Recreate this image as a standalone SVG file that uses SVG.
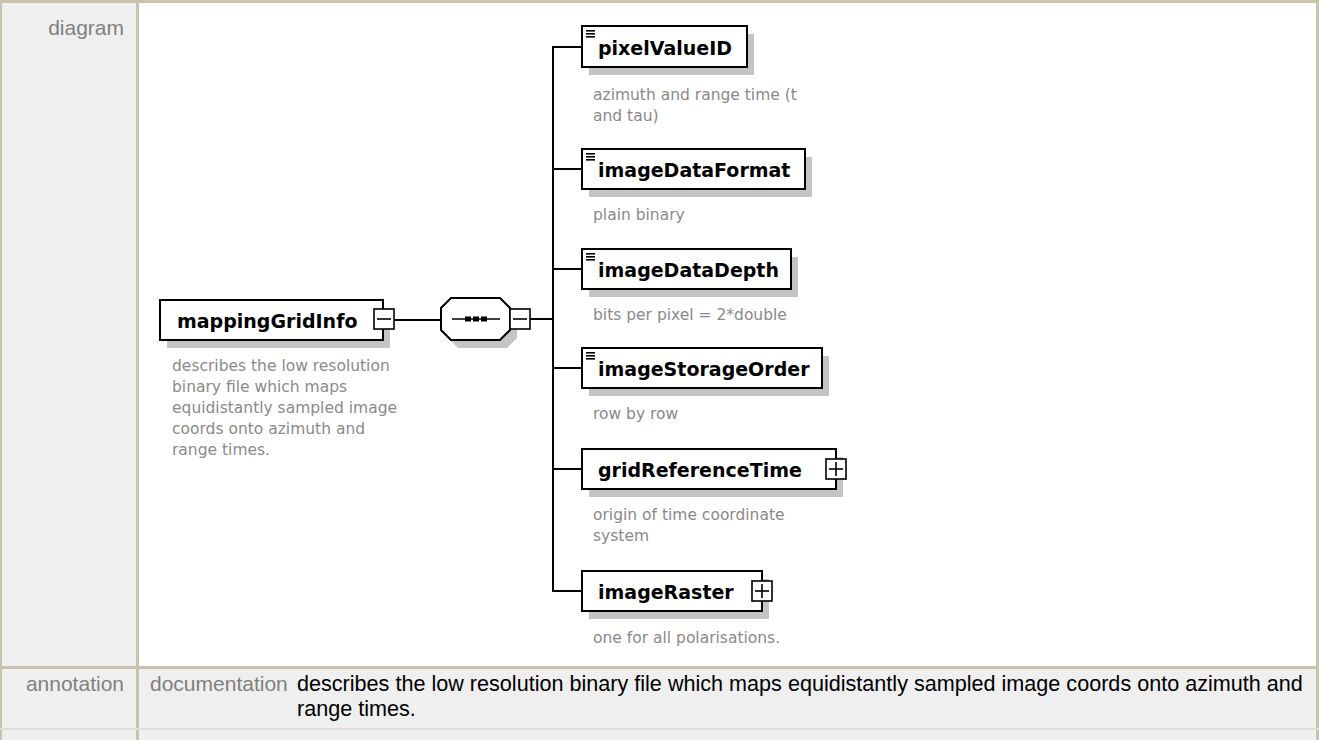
<svg xmlns="http://www.w3.org/2000/svg" width="1319" height="740" viewBox="0 0 1319 740">
  <style>
    .lbl { font-family: "Liberation Sans", Arial, sans-serif; font-size: 21px; fill: #808080; }
    .doc { font-family: "Liberation Sans", Arial, sans-serif; font-size: 21.6px; fill: #000; }
    .name { font-family: "DejaVu Sans", Verdana, sans-serif; font-weight: bold; font-size: 19px; fill: #000; }
    .desc { font-family: "DejaVu Sans", Verdana, sans-serif; font-size: 15.5px; fill: #8a8a8a; }
    .box { fill: #fff; stroke: #000; stroke-width: 2; }
    .shadow { fill: #c4c4c4; }
    .wire { stroke: #000; stroke-width: 2; fill: none; }
    .btn { fill: #fff; stroke: #000; stroke-width: 1.6; }
    .frame { fill: #c8c3ab; }
  </style>
  <defs>
    <!-- simple-content marker drawn in the top-left corner of leaf elements -->
    <g id="leafIcon">
      <rect x="0" y="0" width="9" height="1.6" fill="#000"/>
      <rect x="0" y="3" width="9" height="1.6" fill="#000"/>
      <rect x="0" y="6" width="9" height="1.6" fill="#000"/>
    </g>
    <g id="plusBtn">
      <rect class="btn" x="-10" y="-10" width="20" height="20"/>
      <line x1="-7" y1="0" x2="7" y2="0" stroke="#000" stroke-width="1.6"/>
      <line x1="0" y1="-7" x2="0" y2="7" stroke="#000" stroke-width="1.6"/>
    </g>
    <g id="minusBtn">
      <rect class="btn" x="-10" y="-10" width="20" height="20"/>
      <line x1="-7" y1="0" x2="7" y2="0" stroke="#000" stroke-width="1.6"/>
    </g>
  </defs>

  <!-- table background and frame -->
  <rect x="0" y="0" width="1319" height="740" fill="#efefef"/>
  <rect x="139" y="3" width="1177" height="663" fill="#fff"/>
  <rect class="frame" x="0" y="0" width="1319" height="3"/>
  <rect class="frame" x="0" y="0" width="2" height="740"/>
  <rect class="frame" x="1316" y="0" width="3" height="740"/>
  <rect class="frame" x="136" y="0" width="3" height="740"/>
  <rect class="frame" x="0" y="666" width="1319" height="3"/>
  <rect x="0" y="728" width="1319" height="2" fill="#e2dfd2"/>

  <!-- row labels -->
  <text class="lbl" x="124" y="35" text-anchor="end">diagram</text>
  <text class="lbl" x="124" y="691" text-anchor="end">annotation</text>

  <!-- documentation cell -->
  <g id="documentation">
    <text class="lbl" x="150" y="691">documentation</text>
    <text class="doc" x="297" y="691">describes the low resolution binary file which maps equidistantly sampled image coords onto azimuth and</text>
    <text class="doc" x="297" y="716">range times.</text>
  </g>

  <!-- connectors -->
  <g id="connectors">
    <line class="wire" x1="394" y1="320" x2="441" y2="320"/>
    <line class="wire" x1="530" y1="319" x2="553" y2="319"/>
    <line class="wire" x1="553" y1="46" x2="553" y2="592"/>
    <line class="wire" x1="553" y1="47" x2="582" y2="47"/>
    <line class="wire" x1="553" y1="169" x2="582" y2="169"/>
    <line class="wire" x1="553" y1="269" x2="582" y2="269"/>
    <line class="wire" x1="553" y1="368" x2="582" y2="368"/>
    <line class="wire" x1="553" y1="469" x2="582" y2="469"/>
    <line class="wire" x1="553" y1="591" x2="582" y2="591"/>
  </g>

  <!-- root element -->
  <g id="mappingGridInfo">
    <rect class="shadow" x="167" y="308" width="223" height="40"/>
    <rect class="box" x="160" y="300" width="223" height="40"/>
    <text class="name" x="177" y="328">mappingGridInfo</text>
    <use href="#minusBtn" x="384" y="319"/>
    <text class="desc" x="172" y="371">describes the low resolution</text>
    <text class="desc" x="172" y="392">binary file which maps</text>
    <text class="desc" x="172" y="413">equidistantly sampled image</text>
    <text class="desc" x="172" y="434">coords onto azimuth and</text>
    <text class="desc" x="172" y="455">range times.</text>
  </g>

  <!-- sequence compositor -->
  <g id="sequence">
    <polygon class="shadow" points="458,306 507,306 517,316 517,338 507,348 458,348 448,338 448,316"/>
    <polygon class="box" points="451,298 500,298 510,308 510,330 500,340 451,340 441,330 441,308"/>
    <line x1="452" y1="319" x2="500" y2="319" stroke="#000" stroke-width="1.6"/>
    <rect x="465" y="316.5" width="6" height="5" fill="#000"/>
    <rect x="473" y="316.5" width="6" height="5" fill="#000"/>
    <rect x="481" y="316.5" width="6" height="5" fill="#000"/>
    <use href="#minusBtn" x="520" y="319"/>
  </g>

  <g id="pixelValueID">
    <rect class="shadow" x="589" y="34" width="165" height="41"/>
    <rect class="box" x="582" y="26" width="165" height="41"/>
    <use href="#leafIcon" x="586" y="30"/>
    <text class="name" x="598" y="55">pixelValueID</text>
    <text class="desc" x="593" y="100">azimuth and range time (t</text>
    <text class="desc" x="593" y="121">and tau)</text>
  </g>

  <g id="imageDataFormat">
    <rect class="shadow" x="589" y="157" width="223" height="40"/>
    <rect class="box" x="582" y="149" width="223" height="40"/>
    <use href="#leafIcon" x="586" y="153"/>
    <text class="name" x="598" y="177">imageDataFormat</text>
    <text class="desc" x="593" y="220">plain binary</text>
  </g>

  <g id="imageDataDepth">
    <rect class="shadow" x="589" y="257" width="209" height="40"/>
    <rect class="box" x="582" y="249" width="209" height="40"/>
    <use href="#leafIcon" x="586" y="253"/>
    <text class="name" x="598" y="277">imageDataDepth</text>
    <text class="desc" x="593" y="320">bits per pixel = 2*double</text>
  </g>

  <g id="imageStorageOrder">
    <rect class="shadow" x="589" y="356" width="240" height="40"/>
    <rect class="box" x="582" y="348" width="240" height="40"/>
    <use href="#leafIcon" x="586" y="352"/>
    <text class="name" x="598" y="376">imageStorageOrder</text>
    <text class="desc" x="593" y="419">row by row</text>
  </g>

  <g id="gridReferenceTime">
    <rect class="shadow" x="589" y="457" width="254" height="40"/>
    <rect class="box" x="582" y="449" width="254" height="40"/>
    <text class="name" x="598" y="477">gridReferenceTime</text>
    <use href="#plusBtn" x="836" y="469"/>
    <text class="desc" x="593" y="520">origin of time coordinate</text>
    <text class="desc" x="593" y="541">system</text>
  </g>

  <g id="imageRaster">
    <rect class="shadow" x="589" y="579" width="180" height="40"/>
    <rect class="box" x="582" y="571" width="180" height="40"/>
    <text class="name" x="598" y="599">imageRaster</text>
    <use href="#plusBtn" x="762" y="591"/>
    <text class="desc" x="593" y="643">one for all polarisations.</text>
  </g>
</svg>
